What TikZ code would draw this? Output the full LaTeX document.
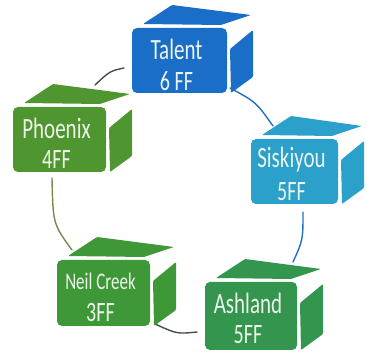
\documentclass[tikz,border=0pt]{standalone}
\usepackage{fontspec}
\setmainfont{Carlito}

\definecolor{talentblue}{RGB}{26,110,200}
\definecolor{siskiyoublue}{RGB}{42,160,202}
\definecolor{phoenixgreen}{RGB}{80,150,48}
\definecolor{neilgreen}{RGB}{62,152,56}
\definecolor{ashlandgreen}{RGB}{52,150,78}
\definecolor{boxtxt}{RGB}{236,244,236}
\definecolor{linkdark}{RGB}{70,78,70}
\definecolor{linkblue}{RGB}{32,112,200}
\definecolor{linkolive}{RGB}{118,138,82}

\tikzset{
  frontface/.style={rectangle, rounded corners=5pt, inner sep=0pt, draw=none},
  boxtext/.style={text=boxtxt, inner sep=0pt},
  link/.style={line width=1.4pt, line cap=round},
}

% One cube: #1 name, #2 x0, #3 y0, #4 x1, #5 y1 (front face), #6 colour,
% #7 first line, #8 second line, #9 font size
\newcommand\cubebox[9]{%
  % top face
  \fill[#6, rounded corners=1pt] ({#2+11},{#3-4}) -- ({#2+40},{#3-23})
      -- ({#4+24},{#3-13}) -- ({#4-6},{#3-3}) -- cycle;
  % side face
  \fill[#6, rounded corners=1pt] ({#4+3},{#3+21}) -- ({#4+26},{#3+2})
      -- ({#4+26},{#5-16}) -- ({#4+4},{#5}) -- cycle;
  % front face
  \node[frontface, fill=#6, minimum width={(#4-#2)*1pt},
        minimum height={(#5-#3)*1pt}] (#1) at ({(#2+#4)/2},{(#3+#5)/2}) {};
  \node[boxtext, font=\fontsize{#9}{#9}\selectfont] (#1-a)
       at ({(#2+#4)/2-3},{#3+21}) {\scalebox{1}[1.4]{#7}};
  \node[boxtext, font=\fontsize{20}{20}\selectfont] (#1-b)
       at ({(#2+#4)/2-3},{#3+53}) {\scalebox{1}[1.4]{#8}};
}

\begin{document}
\begin{tikzpicture}[x=1pt, y=-1pt]
  \useasboundingbox (0,0) rectangle (367,352);

  % attachment points of the ring
  \coordinate (t-w)  at (124,68);
  \coordinate (p-ne) at (95,85);
  \coordinate (t-se) at (230,88);
  \coordinate (s-nw) at (273,126);
  \coordinate (s-s)  at (303,212);
  \coordinate (a-n)  at (293,262);
  \coordinate (a-w)  at (197,332);
  \coordinate (n-se) at (155,324);
  \coordinate (n-nw) at (72,250);
  \coordinate (p-s)  at (52,178);

  % ring connectors
  \draw[link, linkdark]  (t-w)  .. controls (110,71) .. (p-ne);
  \draw[link, linkblue]  (t-se) .. controls (256,102) .. (s-nw);
  \draw[link, linkblue]  (s-s)  .. controls (303,240) .. (a-n);
  \draw[link, linkdark]  (a-w)  .. controls (177,334) .. (n-se);
  \draw[link, linkolive] (n-nw) .. controls (53,224) .. (p-s);

  % cubes
  \cubebox{talent}{132}{28}{227}{93}{talentblue}{Talent}{6 FF}{21}
  \cubebox{phoenix}{13}{107}{106}{172}{phoenixgreen}{Phoenix}{4FF}{21}
  \cubebox{siskiyou}{251}{139}{338}{204}{siskiyoublue}{Siskiyou}{5FF}{21}
  \cubebox{neilcreek}{57}{260}{150}{326}{neilgreen}{Neil Creek}{3FF}{17}
  \cubebox{ashland}{205}{282}{297}{350}{ashlandgreen}{Ashland}{5FF}{21}
\end{tikzpicture}
\end{document}
